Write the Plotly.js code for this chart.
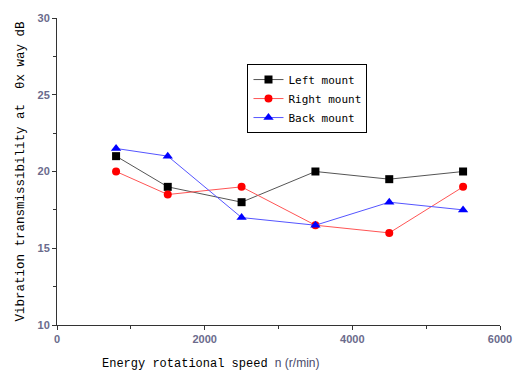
<!DOCTYPE html>
<html>
<head>
<meta charset="utf-8">
<script src="https://cdn.plot.ly/plotly-3.0.1.min.js"></script>
<style>html,body{margin:0;padding:0;background:#fff;}#chart{width:513px;height:370px;}</style>
</head>
<body>
<div id="chart"></div>
<script>
var speeds = [800, 1500, 2500, 3500, 4500, 5500];
var leftMount = [21, 19, 18, 20, 19.5, 20];
var rightMount = [20, 18.5, 19, 16.5, 16, 19];
var backMount = [21.5, 21, 17, 16.5, 18, 17.5];
var seriesNames = ["Left mount", "Right mount", "Back mount"];
var xTitle = "Energy rotational speed";
var xUnit = "n (r/min)";
var yTitle = "Vibration transmissibility at  θx way dB";

var traces = [
  {x: speeds, y: leftMount, name: seriesNames[0], mode: "lines+markers",
   line: {color: "#555555", width: 1}, marker: {symbol: "square", size: 8, color: "#000000"}},
  {x: speeds, y: rightMount, name: seriesNames[1], mode: "lines+markers",
   line: {color: "#ff5555", width: 1}, marker: {symbol: "circle", size: 8, color: "#ff0000"}},
  {x: speeds, y: backMount, name: seriesNames[2], mode: "lines+markers",
   line: {color: "#5555ff", width: 1}, marker: {symbol: "triangle-up", size: 9, color: "#0000ff"}}
];

var tickFont = {family: "Liberation Sans, Arial, sans-serif", size: 11, color: "#6b6b8c", weight: "bold"};
var layout = {
  width: 513, height: 370,
  margin: {l: 57, r: 13, t: 18, b: 45},
  paper_bgcolor: "#fff", plot_bgcolor: "#fff",
  showlegend: true,
  legend: {x: 0.43, y: 0.85, xanchor: "left", yanchor: "top", bgcolor: "#fff",
    bordercolor: "#000", borderwidth: 1,
    font: {family: "DejaVu Sans Mono, Liberation Mono, monospace", size: 11, color: "#000"},
    tracegroupgap: 0, itemwidth: 30},
  xaxis: {range: [0, 6000], tickvals: [0, 2000, 4000, 6000], showgrid: false, zeroline: false,
    showline: true, linecolor: "#333", linewidth: 1, ticks: "outside", ticklen: 4, tickcolor: "#333",
    minor: {tickvals: [1000, 3000, 5000], ticks: "outside", ticklen: 3, tickcolor: "#333"},
    tickfont: tickFont},
  yaxis: {range: [10, 30], tickvals: [10, 15, 20, 25, 30], showgrid: false, zeroline: false,
    showline: true, linecolor: "#333", linewidth: 1, ticks: "outside", ticklen: 4, tickcolor: "#333",
    minor: {tickvals: [12.5, 17.5, 22.5, 27.5], ticks: "outside", ticklen: 3, tickcolor: "#333"},
    tickfont: tickFont,
    title: {text: yTitle,
      font: {family: "Liberation Mono, DejaVu Sans Mono, monospace", size: 12.5, color: "#000"}, standoff: 10}},
  annotations: [{
    xref: "paper", yref: "paper", x: 0.097, y: -0.124, xanchor: "left", yanchor: "middle",
    showarrow: false,
    text: xTitle + " <span style=\"font-family:Liberation Sans, Arial, sans-serif;fill:#4a4a6a\">" + xUnit + "</span>",
    font: {family: "Liberation Mono, DejaVu Sans Mono, monospace", size: 12, color: "#000"}
  }]
};
Plotly.newPlot("chart", traces, layout, {displayModeBar: false, staticPlot: true});
</script>
</body>
</html>
